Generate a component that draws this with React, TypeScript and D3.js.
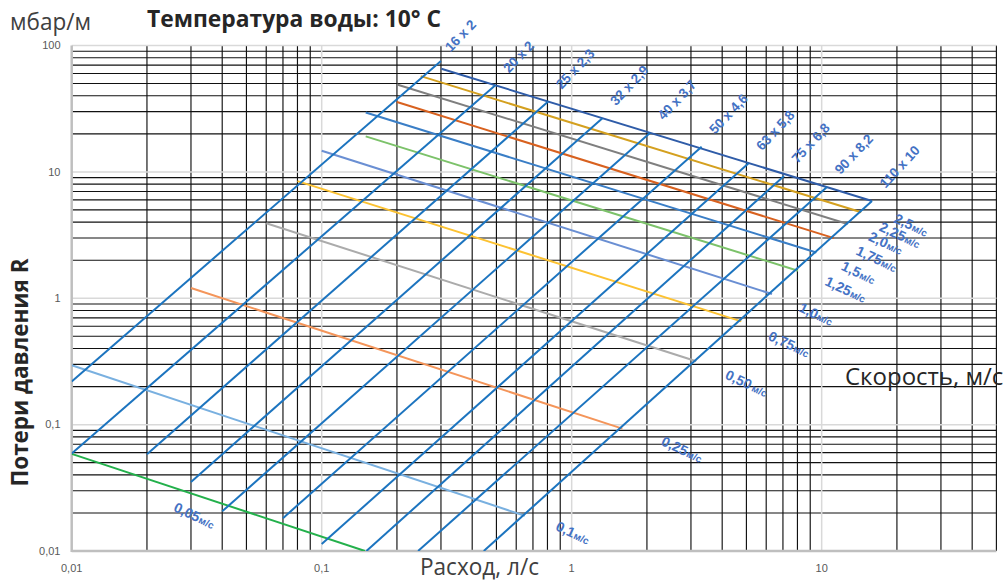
import React from "react";
import * as d3 from "d3";

const W = 1003;
const H = 583;

// Axis ticks
const xTickValues = [0.01, 0.1, 1, 10];
const xTickLabels = ["0,01", "0,1", "1", "10"];
const yTickValues = [100, 10, 1, 0.1, 0.01];
const yTickLabels = ["100", "10", "1", "0,1", "0,01"];

// Pipes (diameter x wall) — end points of each pipe line (flow l/s, loss mbar/m)
const pipeNames = ["16 x 2", "20 x 2", "25 x 2,3", "32 x 2,9", "40 x 3,7", "50 x 4,6", "63 x 5,8", "75 x 6,8", "90 x 8,2", "110 x 10"];
const pipeQTop = [0.3, 0.495, 0.805, 1.327, 2.06, 3.31, 5.1, 7.07, 10.5, 15.9];
const pipeRTop = [75.5, 48.4, 36.0, 26.6, 20.4, 15.8, 11.7, 9.26, 7.58, 5.89];
const pipeQBottom = [0.01, 0.01, 0.02, 0.03, 0.04, 0.07, 0.1, 0.151, 0.243, 0.445];
const pipeRBottom = [0.2195, 0.059, 0.0583, 0.0352, 0.0206, 0.0182, 0.01135, 0.01, 0.01, 0.01];

// Velocity lines — start / end points (flow l/s, loss mbar/m)
const velocityLabels = ["2,5", "2,25", "2,0", "1,75", "1,5", "1,25", "1,0", "0,75", "0,50", "0,25", "0,1", "0,05"];
const velQStart = [0.301, 0.249, 0.2, 0.2, 0.15, 0.15, 0.1, 0.08, 0.06, 0.03, 0.01, 0.01];
const velRStart = [65.5, 57.2, 49.2, 35.7, 29.5, 19.1, 14.7, 8.45, 3.92, 1.204, 0.295, 0.0587];
const velQEnd = [15.9, 14.4, 12.7, 11.2, 9.52, 8.04, 6.33, 4.77, 3.15, 1.595, 0.649, 0.149];
const velREnd = [5.89, 4.79, 3.87, 2.99, 2.3, 1.65, 1.08, 0.656, 0.317, 0.0929, 0.019, 0.01];

// Styles
const velocityColors = ["#2f5ca8", "#d4a01f", "#7f7f7f", "#d8611f", "#3a7ec6", "#7cc26a", "#6a8fd3", "#fcc232", "#ababab", "#f4955a", "#79b0e0", "#23b04b"];
const velLabelDx = [21, 17, 20, 21, 24, 26, 26, 26, 28, 38, 30, 101];
const velLabelDy = [21, 18, 16, 16, 17, 14, 17, 18, 17, 16, 14, 57];
const PIPE_COLOR = "#1c74bf";
const LABEL_COLOR = "#4472c4";

const x = d3.scaleLog().domain([0.01, 50]).range([71.7, 996.4]);
const y = d3.scaleLog().domain([0.01, 100]).range([551, 45.5]);

function minorValues(lo: number, hi: number): number[] {
  const out: number[] = [];
  for (let d = lo; d < hi * 0.999; d *= 10) {
    for (let k = 2; k <= 9; k++) {
      const v = +(k * d).toPrecision(3);
      if (v <= hi * 1.0001) out.push(v);
    }
  }
  return out;
}

export default function App() {
  const x0 = x(0.01), x1 = x(50), yTop = y(100), yBot = y(0.01);
  const xMinor = minorValues(0.01, 50);
  const yMinor = minorValues(0.01, 100);
  const line = d3.line<[number, number]>().x((d) => x(d[0])).y((d) => y(d[1]));

  return (
    <svg width={W} height={H} style={{ position: "absolute", left: 0, top: 0, background: "#fff" }}>
      <defs>
        <clipPath id="plot">
          <rect x={x0} y={yTop} width={x1 - x0} height={yBot - yTop} />
        </clipPath>
      </defs>
      <rect x={0} y={0} width={W} height={H} fill="#fff" />

      {/* minor grid */}
      {yMinor.map((v) => (
        <line key={"hy" + v} x1={x0} x2={x1} y1={y(v)} y2={y(v)} stroke="#111" strokeWidth={1.15} />
      ))}
      {xMinor.map((v) => (
        <line key={"vx" + v} x1={x(v)} x2={x(v)} y1={yTop} y2={yBot} stroke="#111" strokeWidth={1.15} />
      ))}
      {/* major grid */}
      {[100, 10, 1, 0.1].map((v) => (
        <line key={"hM" + v} x1={x0} x2={x1} y1={y(v)} y2={y(v)} stroke="#d9d9d9" strokeWidth={1.5} />
      ))}
      {[0.1, 1, 10].map((v) => (
        <line key={"vM" + v} x1={x(v)} x2={x(v)} y1={yTop} y2={yBot} stroke="#d9d9d9" strokeWidth={1.5} />
      ))}
      {/* axes */}
      <line x1={x0} x2={x0} y1={yTop} y2={yBot + 1} stroke="#bfbfbf" strokeWidth={2.5} />
      <line x1={x0} x2={x1} y1={yBot} y2={yBot} stroke="#bfbfbf" strokeWidth={2.5} />

      <g clipPath="url(#plot)">
        {velocityLabels.map((lab, i) => (
          <path
            key={"v" + lab}
            d={line([[velQStart[i], velRStart[i]], [velQEnd[i], velREnd[i]]]) || ""}
            stroke={velocityColors[i]}
            strokeWidth={2}
            fill="none"
          />
        ))}
        {pipeNames.map((n, i) => (
          <path
            key={"p" + n}
            d={line([[pipeQBottom[i], pipeRBottom[i]], [pipeQTop[i], pipeRTop[i]]]) || ""}
            stroke={PIPE_COLOR}
            strokeWidth={2}
            fill="none"
          />
        ))}
      </g>

      {/* pipe labels */}
      {pipeNames.map((n, i) => {
        const bx = x(pipeQBottom[i]), by = y(pipeRBottom[i]);
        const tx = x(pipeQTop[i]), ty = y(pipeRTop[i]);
        const len = Math.hypot(tx - bx, ty - by);
        const ux = (tx - bx) / len, uy = (ty - by) / len;
        const ang = (Math.atan2(uy, ux) * 180) / Math.PI - 5;
        const off = i === 0 ? 13 : 18;
        const px = tx + ux * off, py = ty + uy * off;
        return (
          <text
            key={"pl" + n}
            transform={`translate(${px},${py}) rotate(${ang})`}
            fontFamily="'Liberation Sans', Arial, sans-serif"
            fontWeight="bold"
            fontSize={13.5}
            fill={LABEL_COLOR}
          >
            {n}
          </text>
        );
      })}

      {/* velocity labels */}
      {velocityLabels.map((lab, i) => {
        const last = i === velocityLabels.length - 1;
        const ax = last ? x(velQStart[i]) : x(velQEnd[i]);
        const ay = last ? y(velRStart[i]) : y(velREnd[i]);
        return (
          <text
            key={"vl" + lab}
            transform={`translate(${ax + velLabelDx[i]},${ay + velLabelDy[i]}) rotate(25)`}
            fontFamily="'Liberation Sans', Arial, sans-serif"
            fontWeight="bold"
            fill={LABEL_COLOR}
          >
            <tspan fontSize={14}>{lab}</tspan>
            <tspan fontSize={10} dx={lab === "0,50" ? 2 : 0.5}>м/с</tspan>
          </text>
        );
      })}

      {/* tick labels */}
      {yTickValues.map((v, i) => (
        <text key={"yt" + v} x={60.5} y={y(v)} dy="0.35em" textAnchor="end" fontFamily="'Liberation Sans', Arial, sans-serif" fontSize={11} fill="#595959">
          {yTickLabels[i]}
        </text>
      ))}
      {xTickValues.map((v, i) => (
        <text key={"xt" + v} x={x(v)} y={572} textAnchor="middle" fontFamily="'Liberation Sans', Arial, sans-serif" fontSize={11} fill="#595959">
          {xTickLabels[i]}
        </text>
      ))}

      {/* titles */}
      <text x={10} y={29.5} fontFamily="'Open Sans', sans-serif" fontWeight={400} fontSize={23} fill="#404040" textLength={81} lengthAdjust="spacingAndGlyphs">
        мбар/м
      </text>
      <text x={147} y={26.5} fontFamily="'Open Sans', sans-serif" fontWeight="bold" fontSize={23.5} fill="#262626" textLength={294} lengthAdjust="spacingAndGlyphs">
        Температура воды: 10° С
      </text>
      <text
        transform="translate(28,372.5) rotate(-90)"
        textAnchor="middle"
        fontFamily="'Open Sans', sans-serif"
        fontWeight="bold"
        fontSize={24}
        fill="#262626"
        textLength={228}
        lengthAdjust="spacingAndGlyphs"
      >
        Потери давления R
      </text>
      <text x={420} y={575} fontFamily="'Open Sans', sans-serif" fontWeight={400} fontSize={23} fill="#404040" textLength={119} lengthAdjust="spacingAndGlyphs">
        Расход, л/с
      </text>
      <text x={845} y={385} fontFamily="'Open Sans', sans-serif" fontWeight={400} fontSize={24} fill="#262626">
        Скорость, м/с
      </text>
    </svg>
  );
}
